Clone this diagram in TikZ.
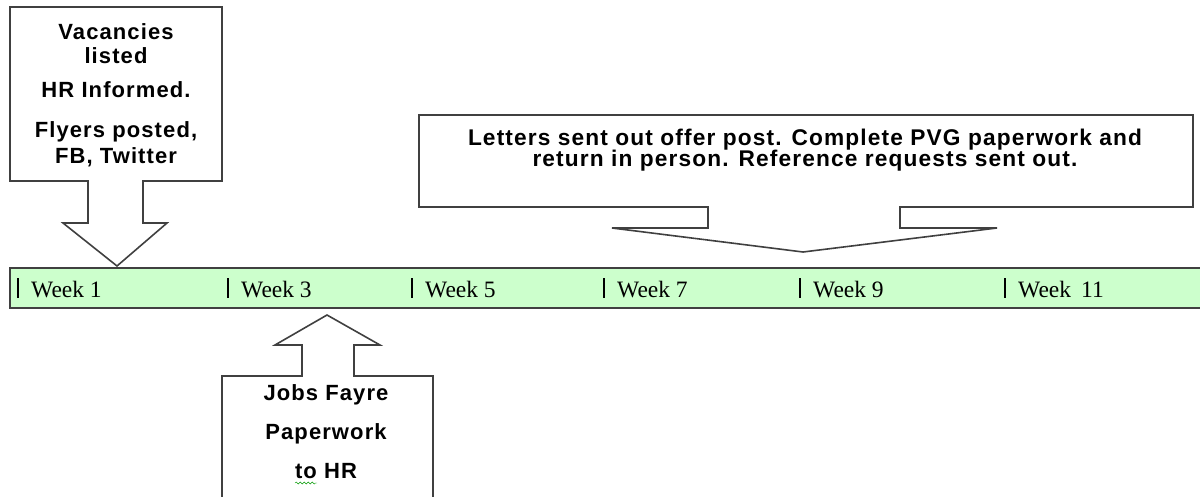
\documentclass[tikz,border=0pt]{standalone}
\usepackage{fontspec}
\setmainfont{Liberation Serif}
\newfontfamily\callfont[LetterSpace=5]{Liberation Sans}
\usepackage{tikz}
\usetikzlibrary{decorations.pathmorphing}
\definecolor{barfill}{RGB}{204,255,204}
\definecolor{edge}{RGB}{64,64,64}

\begin{document}
\begin{tikzpicture}[x=1pt,y=-1pt,
  callout/.style={draw=edge,line width=1.6pt,fill=white,line join=miter},
  calltext/.style={font=\callfont\bfseries\fontsize{22}{24}\selectfont,align=center,inner sep=0pt,anchor=north},
  weektext/.style={font=\fontsize{23.5}{26}\selectfont,inner sep=0pt,anchor=base west}]
  \useasboundingbox (0,0) rectangle (1200,496);
  % timeline bar
  \fill[barfill] (10,268) rectangle (1200,308);
  \draw[edge,line width=1.8pt] (1200,268) -- (10,268) -- (10,308) -- (1200,308);
  \foreach \x/\n/\t in {18/w1/{Week 1},228/w3/{Week 3},412/w5/{Week 5},604/w7/{Week 7},800/w9/{Week 9},1005/w11/{Week\hspace{10pt}11}} {
    \draw[line width=1.4pt] (\x,278) -- (\x,298);
    \node[weektext] (\n) at (\x+13,297) {\t};
  }
  % callouts
  \draw[callout] (10,7) -- (222,7) -- (222,181) -- (143,181) -- (143,223) -- (167,223) -- (117,266)
    -- (63,223) -- (88,223) -- (88,181) -- (10,181) -- cycle;
  \node[calltext] (vac) at (116,23) {Vacancies\\ listed\\[10pt] HR Informed.\\[16pt] Flyers posted,\\[2pt] FB, Twitter};
  \draw[callout] (419,115) -- (1193,115) -- (1193,207) -- (900,207) -- (900,228) -- (997,228) -- (803,252)
    -- (612,228) -- (708,228) -- (708,207) -- (419,207) -- cycle;
  \node[calltext,font=\callfont\bfseries\fontsize{22.7}{24}\selectfont] (letters) at (805,129) {Letters sent out offer post. Complete PVG paperwork and\\[-3pt] return in person. Reference requests sent out.};
  \draw[callout] (222,500) -- (222,376) -- (302,376) -- (302,345) -- (275,345) -- (327,315) -- (380,345)
    -- (354,345) -- (354,376) -- (433,376) -- (433,500);
  \node[calltext] (jobs) at (326,384) {Jobs Fayre\\[15pt] Paperwork\\[15pt] to HR};
  \draw[green!60!black,decorate,decoration={snake,amplitude=1pt,segment length=4pt}] (295,483) -- (317,483);
\end{tikzpicture}
\end{document}
